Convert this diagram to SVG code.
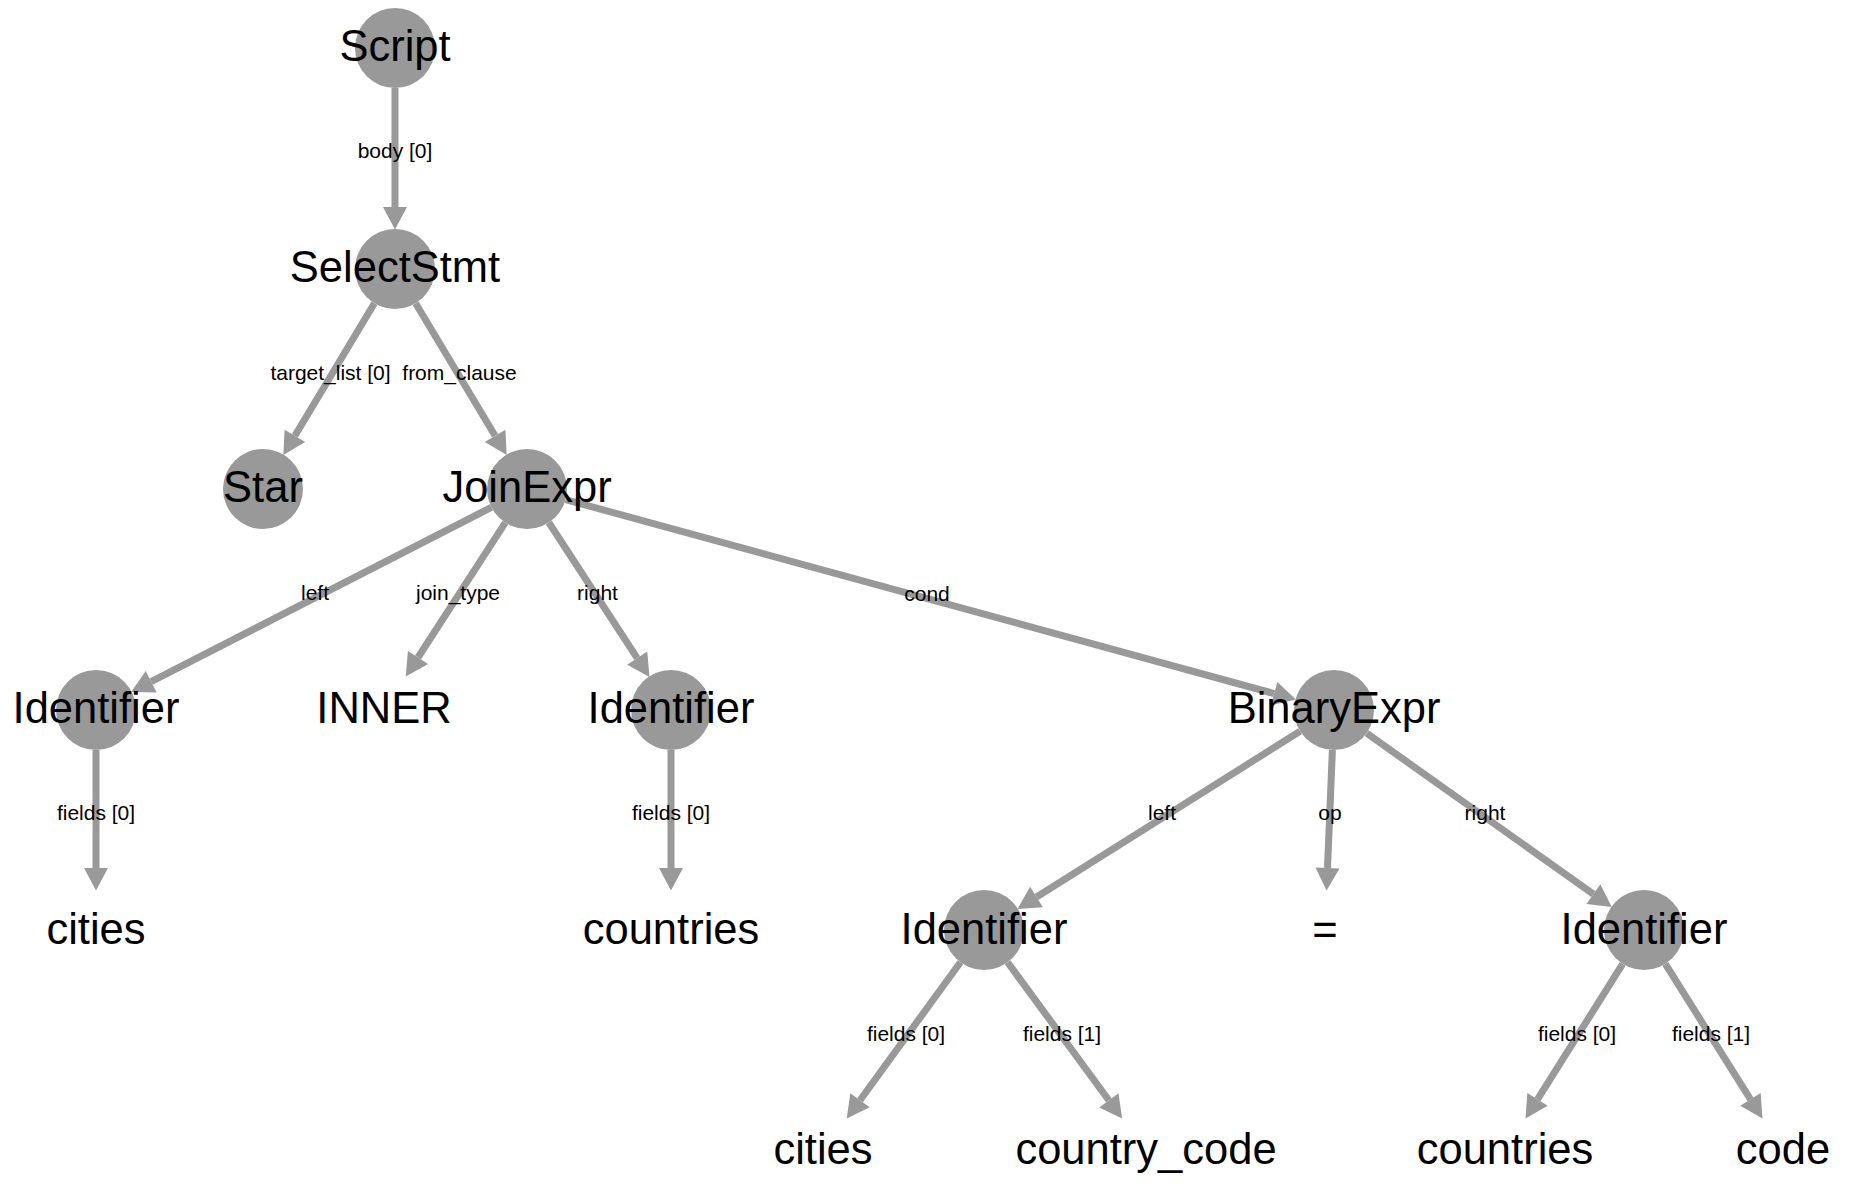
<svg xmlns="http://www.w3.org/2000/svg" width="1856" height="1196" viewBox="0 0 1856 1196">
<style>
.node circle{fill:#999999;stroke:none}
.node text{font-family:"Liberation Sans",Arial,sans-serif;font-size:43.5px;fill:#000;text-anchor:middle}
.edges line{stroke:#999999;stroke-width:7;fill:none}
.lbl{font-family:"Liberation Sans",Arial,sans-serif;font-size:21px;fill:#000;text-anchor:middle}
</style>
<defs>
<marker id="ah" markerUnits="userSpaceOnUse" markerWidth="24" markerHeight="26" viewBox="0 -13 23 26" refX="0" refY="0" orient="auto">
<path d="M0,-12 L22.5,0 L0,12 Z" fill="#999999"/>
</marker>
</defs>
<rect width="1856" height="1196" fill="#ffffff"/>
<g id="connectors" class="edges">
<line x1="395" y1="88" x2="395" y2="207" marker-end="url(#ah)"/>
<line x1="374.4" y1="303.3" x2="294.9" y2="435.8" marker-end="url(#ah)"/>
<line x1="415.6" y1="303.3" x2="495.1" y2="435.8" marker-end="url(#ah)"/>
<line x1="491.4" y1="507.3" x2="151.2" y2="681.7" marker-end="url(#ah)"/>
<line x1="505.3" y1="522.6" x2="418.0" y2="657.5" marker-end="url(#ah)"/>
<line x1="548.8" y1="522.5" x2="637.2" y2="658.1" marker-end="url(#ah)"/>
<line x1="565.6" y1="499.6" x2="1274.2" y2="693.6" marker-end="url(#ah)"/>
<line x1="96" y1="750" x2="96" y2="868" marker-end="url(#ah)"/>
<line x1="671" y1="750" x2="671" y2="868" marker-end="url(#ah)"/>
<line x1="1300.1" y1="731.3" x2="1036.5" y2="897.0" marker-end="url(#ah)"/>
<line x1="1332.4" y1="750" x2="1327.5" y2="868" marker-end="url(#ah)"/>
<line x1="1366.6" y1="733.2" x2="1593.4" y2="894.1" marker-end="url(#ah)"/>
<line x1="960.4" y1="962.3" x2="860.0" y2="1100.2" marker-end="url(#ah)"/>
<line x1="1007.6" y1="962.3" x2="1108.8" y2="1100.3" marker-end="url(#ah)"/>
<line x1="1622.7" y1="963.9" x2="1537.5" y2="1099.4" marker-end="url(#ah)"/>
<line x1="1665.3" y1="963.9" x2="1750.5" y2="1099.4" marker-end="url(#ah)"/>
<text class="lbl" x="395" y="158">body [0]</text>
<text class="lbl" x="330.5" y="380">target_list [0]</text>
<text class="lbl" x="459.5" y="380">from_clause</text>
<text class="lbl" x="315" y="600">left</text>
<text class="lbl" x="458" y="600">join_type</text>
<text class="lbl" x="597.5" y="600">right</text>
<text class="lbl" x="927" y="601">cond</text>
<text class="lbl" x="96" y="820">fields [0]</text>
<text class="lbl" x="671" y="820">fields [0]</text>
<text class="lbl" x="1162" y="820">left</text>
<text class="lbl" x="1330" y="820">op</text>
<text class="lbl" x="1485" y="820">right</text>
<text class="lbl" x="906" y="1041">fields [0]</text>
<text class="lbl" x="1062" y="1041">fields [1]</text>
<text class="lbl" x="1577" y="1041">fields [0]</text>
<text class="lbl" x="1711" y="1041">fields [1]</text>
</g>
<g id="n-script" class="node"><circle cx="395" cy="48" r="40"/><text x="395" y="61">Script</text></g>
<g id="n-selectstmt" class="node"><circle cx="395" cy="269" r="40"/><text x="395" y="282">SelectStmt</text></g>
<g id="n-star" class="node"><circle cx="263" cy="489" r="40"/><text x="263" y="502">Star</text></g>
<g id="n-joinexpr" class="node"><circle cx="527" cy="489" r="40"/><text x="527" y="502">JoinExpr</text></g>
<g id="n-identifier-left" class="node"><circle cx="96" cy="710" r="40"/><text x="96" y="723">Identifier</text></g>
<g id="n-inner" class="node"><text x="384" y="723">INNER</text></g>
<g id="n-identifier-right" class="node"><circle cx="671" cy="710" r="40"/><text x="671" y="723">Identifier</text></g>
<g id="n-binaryexpr" class="node"><circle cx="1334" cy="710" r="40"/><text x="1334" y="723">BinaryExpr</text></g>
<g id="n-cities1" class="node"><text x="96" y="944">cities</text></g>
<g id="n-countries1" class="node"><text x="671" y="944">countries</text></g>
<g id="n-identifier-bl" class="node"><circle cx="984" cy="930" r="40"/><text x="984" y="944">Identifier</text></g>
<g id="n-eq" class="node"><text x="1325" y="944">=</text></g>
<g id="n-identifier-br" class="node"><circle cx="1644" cy="930" r="40"/><text x="1644" y="944">Identifier</text></g>
<g id="n-cities2" class="node"><text x="823" y="1164">cities</text></g>
<g id="n-country-code" class="node"><text x="1146" y="1164">country_code</text></g>
<g id="n-countries2" class="node"><text x="1505" y="1164">countries</text></g>
<g id="n-code" class="node"><text x="1783" y="1164">code</text></g>
</svg>
